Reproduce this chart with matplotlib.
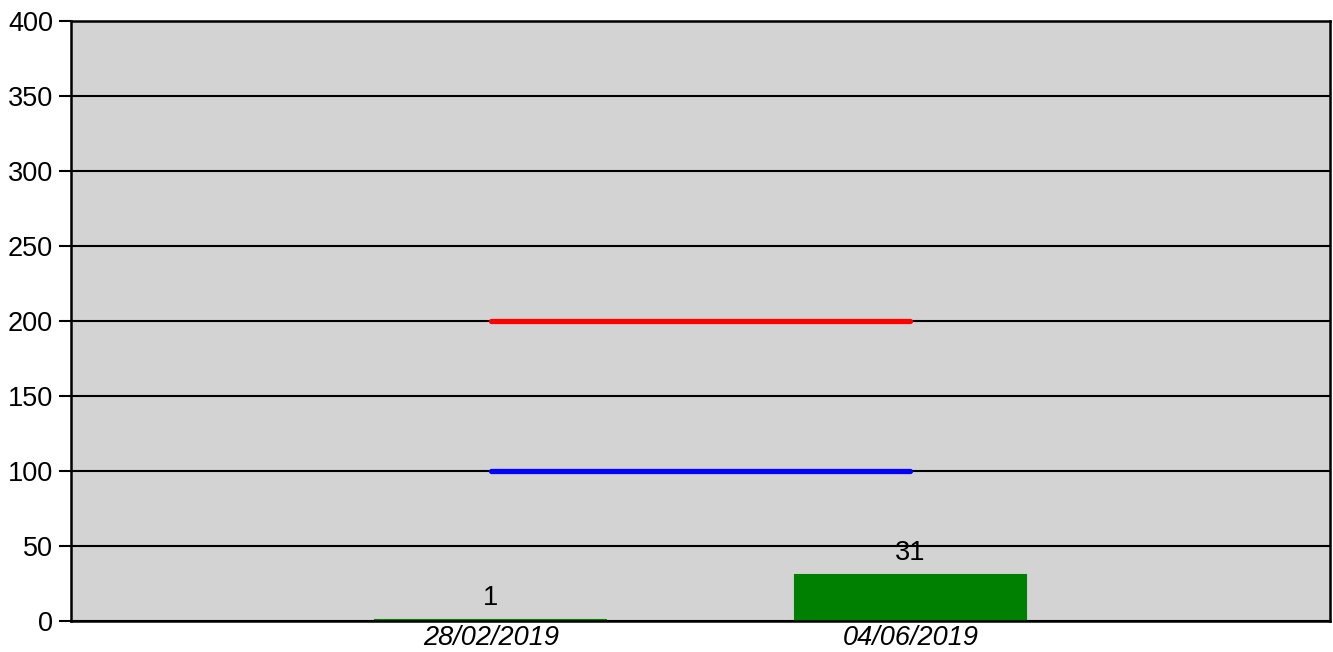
import matplotlib
matplotlib.use("Agg")
import matplotlib.pyplot as plt

categories = ["28/02/2019", "04/06/2019"]
values = [1, 31]
upper_limit = [200, 200]
lower_limit = [100, 100]
yticks = [0, 50, 100, 150, 200, 250, 300, 350, 400]

plt.rcParams['font.family'] = ['Liberation Sans', 'DejaVu Sans']

fig = plt.figure(figsize=(13.33, 6.52), dpi=100)
ax = fig.add_axes([71/1333, 31/652, (1330-71)/1333, (621-21)/652])
ax.set_facecolor('#d3d3d3')

x = list(range(len(categories)))
ax.set_axisbelow(True)
ax.yaxis.grid(True, color='black', linewidth=1.5)
bars = ax.bar(x, values, width=0.55, color='#008000', edgecolor='#008000',
              linewidth=1.5, zorder=2)
for xi, v in zip(x, values):
    ax.annotate(str(v), (xi, v), xytext=(0, 6), textcoords='offset points',
                ha='center', va='bottom', fontsize=19.5, zorder=3)
ax.plot(x, upper_limit, color='#ff0000', linewidth=3.8, solid_capstyle='round', zorder=3)
ax.plot(x, lower_limit, color='#0000ff', linewidth=3.8, solid_capstyle='round', zorder=3)

ax.set_xlim(-1.0, 2.0)
ax.set_ylim(0, 400)
ax.set_yticks(yticks)
ax.set_xticks(x)
ax.set_xticklabels(categories, fontstyle='italic')
ax.tick_params(axis='y', length=9, width=1.5, labelsize=19.5, pad=4)
ax.tick_params(axis='x', length=0, labelsize=19.5, pad=3)
for s in ax.spines.values():
    s.set_linewidth(1.8)
    s.set_color('black')
    s.set_zorder(4)

fig.savefig('out.png', dpi=100)
